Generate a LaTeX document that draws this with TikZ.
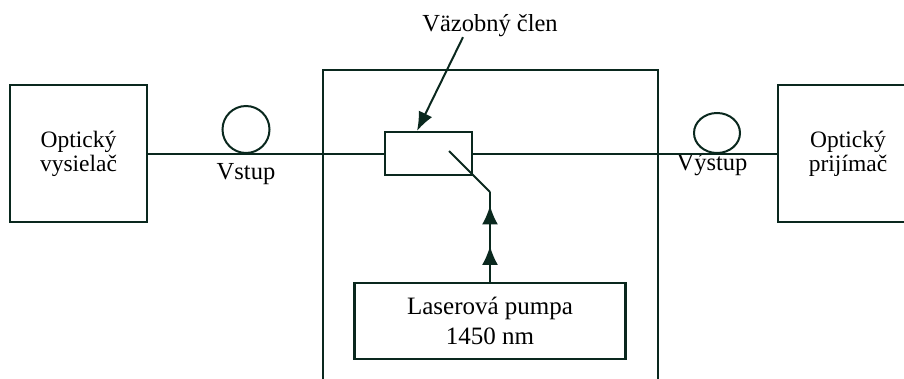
\documentclass[tikz,border=0pt]{standalone}
\usepackage{fontspec}
\setmainfont{Liberation Serif}
\usepackage{tikz}
\usetikzlibrary{arrows.meta,positioning,shapes.geometric,decorations.markings}
\definecolor{fibregreen}{RGB}{10,40,30}

\begin{document}
\begin{tikzpicture}[
  x=1pt, y=-1pt,
  unit/.style={draw=fibregreen, line width=2.1pt, rectangle, align=center, inner sep=0pt, font=\fontsize{23.5}{24}\selectfont},
  pumpbox/.style={unit, font=\fontsize{25}{30}\selectfont},
  loop/.style={draw=fibregreen, line width=2pt, ellipse, inner sep=0pt},
  lbl/.style={inner sep=0pt, font=\fontsize{24.5}{26}\selectfont},
  fibre/.style={draw=fibregreen, line width=2pt},
  frame/.style={draw=fibregreen, line width=2.1pt},
  arr/.style={fibre, -{Latex[length=19pt,width=15pt]}},
  pumparrows/.style={postaction={decorate}, decoration={markings,
    mark=at position 0.40 with {\arrow[fibregreen]{Latex[length=19pt,width=16pt]}},
    mark=at position 0.85 with {\arrow[fibregreen]{Latex[length=19pt,width=16pt]}}}}
]
\clip (0,0) rectangle (904,378);

% end units
\node[unit, minimum width=137, minimum height=137] (tx) at (78.5,153.5) {Optický\\vysielač};
\node[unit, minimum width=140, minimum height=137] (rx) at (848,153.5) {Optický\\prijímač};

% amplifier frame
\draw[frame] (323,70) rectangle (658,420);
\node[unit, minimum width=87, minimum height=43] (cpl) at (428.5,153.5) {};
\node[pumpbox, minimum width=271, minimum height=76] (pump) at (490,321) {Laserová pumpa\\1450 nm};

% fibre loops and labels
\node[loop, minimum width=47, minimum height=47] (inloop) at (246,129.5) {};
\node[loop, minimum width=46, minimum height=40] (outloop) at (717,133) {};
\node[lbl, anchor=base] (inlbl) at (246,179) {Vstup};
\node[lbl, anchor=base] (outlbl) at (712,170) {Výstup};
\node[lbl, anchor=base] (cpllbl) at (490,31.7) {Väzobný člen};

\coordinate (kink) at (490,192);
\coordinate (tapend) at (449,151);

\draw[fibre] (tx.east) -- (cpl.west);
\draw[fibre] (cpl.east) -- (rx.west);
\draw[fibre, pumparrows] (pump.north) -- (kink);
\draw[fibre] (kink) -- (tapend);
\draw[arr] ([xshift=-27pt]cpllbl.south) -- ([xshift=-11.5pt]cpl.north);
\end{tikzpicture}
\end{document}
